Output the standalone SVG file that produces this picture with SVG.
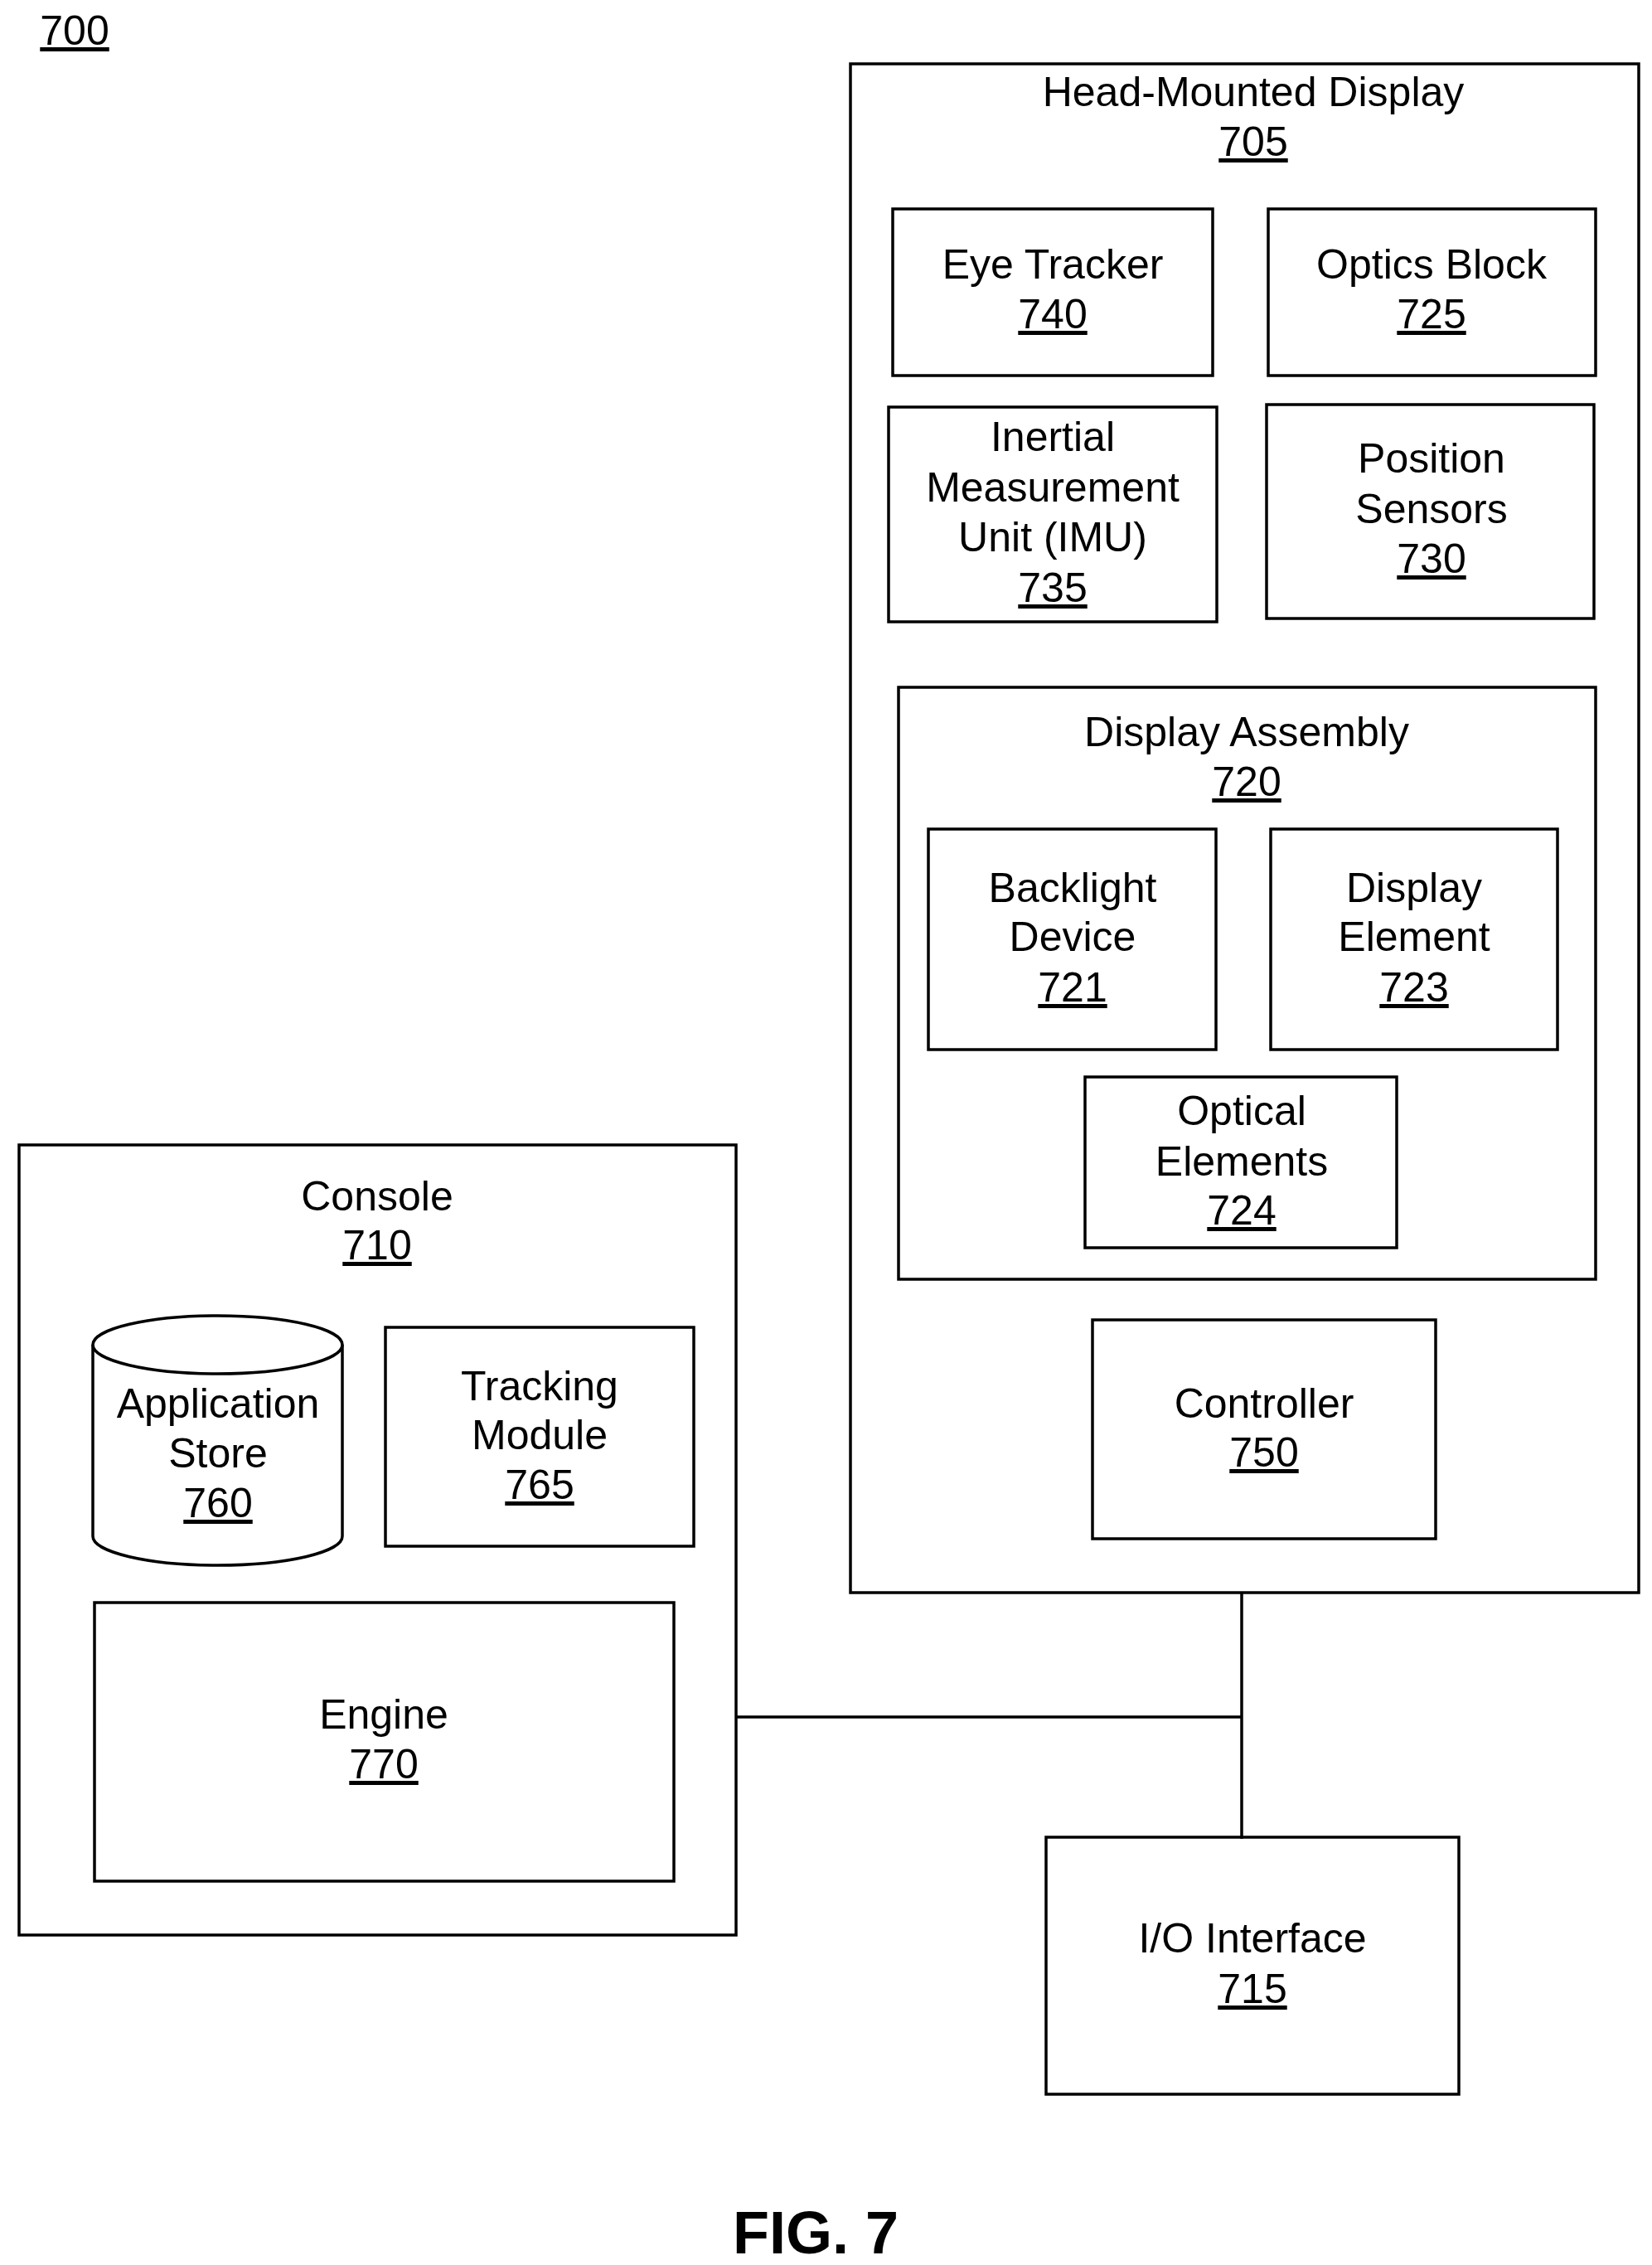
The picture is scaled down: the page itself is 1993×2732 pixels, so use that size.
<svg xmlns="http://www.w3.org/2000/svg" width="1993" height="2732" viewBox="0 0 1993 2732">
<style>
.s{fill:none;stroke:#000;stroke-width:3.5}
text{font-family:"Liberation Sans",Arial,sans-serif;font-size:50px;text-anchor:middle;fill:#000}
.u{text-decoration:underline}
</style>
<rect width="1993" height="2732" fill="#fff"/>
<text x="90" y="54" class="u">700</text>
<g id="connectors"><path class="s" d="M1498 1921V2218M888 2071H1498"/></g>
<g id="hmd"><rect class="s" x="1026" y="77" width="951" height="1844"/><text x="1512" y="128">Head-Mounted Display</text><text x="1512" y="188" class="u">705</text></g>
<g id="eye"><rect class="s" x="1077" y="252" width="386" height="201"/><text x="1270" y="336">Eye Tracker</text><text x="1270" y="396" class="u">740</text></g>
<g id="optics"><rect class="s" x="1530" y="252" width="395" height="201"/><text x="1727" y="336">Optics Block</text><text x="1727" y="396" class="u">725</text></g>
<g id="imu"><rect class="s" x="1072" y="491" width="396" height="259"/><text x="1270" y="544">Inertial</text><text x="1270" y="605">Measurement</text><text x="1270" y="665">Unit (IMU)</text><text x="1270" y="726" class="u">735</text></g>
<g id="pos"><rect class="s" x="1528" y="488" width="395" height="258"/><text x="1727" y="570">Position</text><text x="1727" y="631">Sensors</text><text x="1727" y="691" class="u">730</text></g>
<g id="da"><rect class="s" x="1084" y="829" width="841" height="714"/><text x="1504" y="900">Display Assembly</text><text x="1504" y="960" class="u">720</text></g>
<g id="bl"><rect class="s" x="1120" y="1000" width="347" height="266"/><text x="1294" y="1088">Backlight</text><text x="1294" y="1147">Device</text><text x="1294" y="1208" class="u">721</text></g>
<g id="de"><rect class="s" x="1533" y="1000" width="346" height="266"/><text x="1706" y="1088">Display</text><text x="1706" y="1147">Element</text><text x="1706" y="1208" class="u">723</text></g>
<g id="oe"><rect class="s" x="1309" y="1299" width="376" height="206"/><text x="1498" y="1357">Optical</text><text x="1498" y="1418">Elements</text><text x="1498" y="1477" class="u">724</text></g>
<g id="ctrl"><rect class="s" x="1318" y="1592" width="414" height="264"/><text x="1525" y="1710">Controller</text><text x="1525" y="1769" class="u">750</text></g>
<g id="console"><rect class="s" x="23" y="1381" width="865" height="953"/><text x="455" y="1460">Console</text><text x="455" y="1519" class="u">710</text></g>
<g id="app"><path class="s" d="M112 1622V1853A150.5 35 0 0 0 413 1853V1622"/><ellipse class="s" cx="262.5" cy="1622" rx="150.5" ry="35"/><text x="263" y="1710">Application</text><text x="263" y="1770">Store</text><text x="263" y="1830" class="u">760</text></g>
<g id="track"><rect class="s" x="465" y="1601" width="372" height="264"/><text x="651" y="1689">Tracking</text><text x="651" y="1748">Module</text><text x="651" y="1808" class="u">765</text></g>
<g id="engine"><rect class="s" x="114" y="1933" width="699" height="336"/><text x="463" y="2085">Engine</text><text x="463" y="2145" class="u">770</text></g>
<g id="io"><rect class="s" x="1262" y="2216" width="498" height="310"/><text x="1511" y="2355">I/O Interface</text><text x="1511" y="2416" class="u">715</text></g>
<text x="984" y="2718" style="font-size:72px;font-weight:bold">FIG. 7</text>
</svg>
